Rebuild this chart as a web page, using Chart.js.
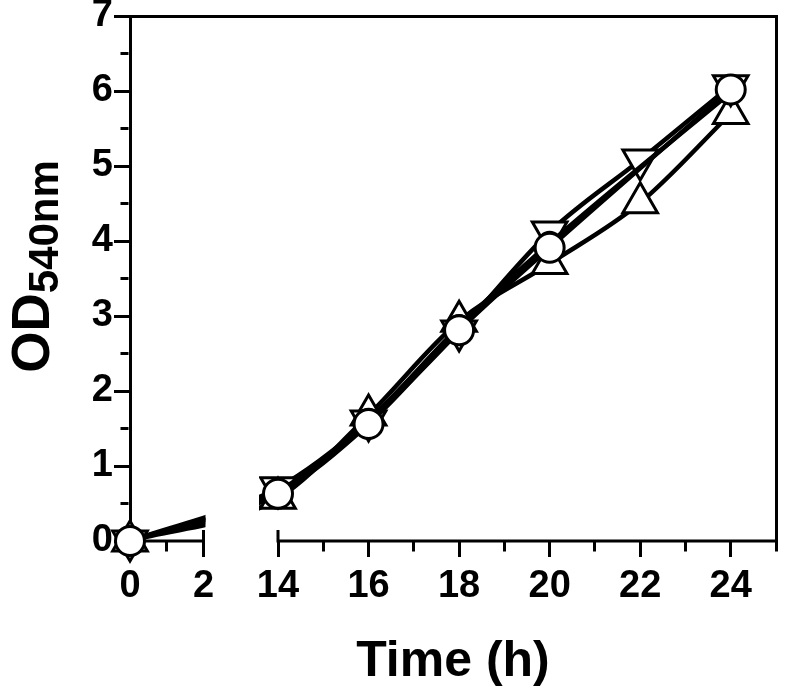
<!DOCTYPE html>
<html>
<head>
<meta charset="utf-8">
<script src="https://cdn.jsdelivr.net/npm/chart.js@4.4.1/dist/chart.umd.min.js"></script>
<style>
  html, body { margin: 0; padding: 0; background: #fff; }
  #wrap { width: 786px; height: 689px; position: relative; }
</style>
</head>
<body>
<div id="wrap"><canvas id="chart"></canvas></div>
<script>
// sampling times (h) and OD540 readings per culture
const hours = [0, 14, 16, 18, 20, 22, 24];
const odOpenCircle   = [0, 0.63, 1.56, 2.81, 3.91, null, 6.02];
const odFilledCircle = [0, 0.66, 1.61, 2.86, 3.97, null, 5.98];
const odTriDown      = [0, 0.71, 1.60, 2.80, 4.12, 5.08, 6.07];
const odTriUp        = [0, 0.57, 1.68, 2.93, 3.70, 4.51, 5.70];

// axis ticks
const xTickValues = [0, 1, 2, 14, 15, 16, 17, 18, 19, 20, 21, 22, 23, 24, 25];
const xTickLabels = [0, 2, 14, 16, 18, 20, 22, 24];
const yTickValues = [0, 0.5, 1, 1.5, 2, 2.5, 3, 3.5, 4, 4.5, 5, 5.5, 6, 6.5, 7];
const yTickLabels = [0, 1, 2, 3, 4, 5, 6, 7];

// broken x axis: 0-2 | gap | 14-25, widths as relative weights
const breakFrom = 2;
const breakTo = 14;
const xMin = 0;
const xMax = 25;
const xPartWeights = [73.5, 74.5, 498];

const FONT = "'Liberation Sans', Arial, Helvetica, sans-serif";
Chart.defaults.font.family = FONT;
Chart.defaults.font.weight = 'bold';
Chart.defaults.color = '#000';

class BrokenLinearScale extends Chart.LinearScale {
  static id = 'brokenLinear';
  static defaults = {};

  getPixelForValue(v) {
    if (v === null || v === undefined) return NaN;
    const [wl, wg, wr] = xPartWeights;
    const tot = wl + wg + wr;
    let d;
    if (v <= breakFrom) d = (v - xMin) / (breakFrom - xMin) * wl;
    else if (v >= breakTo) d = wl + wg + (v - breakTo) / (xMax - breakTo) * wr;
    else d = wl + (v - breakFrom) / (breakTo - breakFrom) * wg;
    return this.getPixelForDecimal(d / tot);
  }

  getValueForPixel(p) {
    const [wl, wg, wr] = xPartWeights;
    const tot = wl + wg + wr;
    const d = this.getDecimalForPixel(p) * tot;
    if (d <= wl) return xMin + d / wl * (breakFrom - xMin);
    if (d >= wl + wg) return breakTo + (d - wl - wg) / wr * (xMax - breakTo);
    return breakFrom + (d - wl) / wg * (breakTo - breakFrom);
  }
}
Chart.register(BrokenLinearScale);

const toPoints = (vals) => hours.map((h, i) => ({ x: h, y: vals[i] }));

function series(vals, style) {
  return Object.assign({
    data: toPoints(vals),
    xAxisID: 'x',
    yAxisID: 'y',
    borderColor: '#000',
    borderWidth: 4.5,
    cubicInterpolationMode: 'monotone',
    spanGaps: true,
    clip: false,
    pointBorderColor: '#000',
    pointBackgroundColor: '#fff',
    pointBorderWidth: 3,
  }, style);
}

// hide the part of the lines that falls inside the axis gap, draw the broken axis
const axisBreak = {
  id: 'axisBreak',
  beforeDatasetsDraw(chart) {
    const { ctx } = chart;
    const x = chart.scales.x;
    const yb = chart.scales.y.bottom;
    const p0 = x.getPixelForValue(xMin);
    const p2 = x.getPixelForValue(breakFrom);
    const p14 = x.getPixelForValue(breakTo);
    const pEnd = x.getPixelForValue(xMax);

    ctx.save();
    ctx.strokeStyle = '#000';
    ctx.lineWidth = 3;
    ctx.beginPath();
    ctx.moveTo(p0 - 1.5, yb); ctx.lineTo(p2 + 1.5, yb);
    ctx.moveTo(p14 - 1.5, yb); ctx.lineTo(pEnd + 1.5, yb);
    // little caps at the break
    ctx.moveTo(p2, yb - 11); ctx.lineTo(p2, yb);
    ctx.moveTo(p14, yb - 11); ctx.lineTo(p14, yb);
    ctx.stroke();
    ctx.restore();

    const gapL = p2 + 2;
    const gapR = p14 - 19;
    ctx.save();
    ctx.beginPath();
    ctx.rect(0, 0, gapL, chart.height);
    ctx.rect(gapR, 0, chart.width - gapR, chart.height);
    ctx.clip();
  },
  afterDatasetsDraw(chart) {
    chart.ctx.restore();
  },
  afterDraw(chart) {
    // y title with subscript
    const { ctx, chartArea } = chart;
    const big = 53, small = 42;
    ctx.save();
    ctx.font = `bold ${big}px ${FONT}`;
    const wOD = ctx.measureText('OD').width;
    ctx.font = `bold ${small}px ${FONT}`;
    const wSub = ctx.measureText('540nm').width;
    const mid = (chartArea.top + chartArea.bottom) / 2 - 12;
    ctx.translate(49, mid + (wOD + wSub) / 2);
    ctx.rotate(-Math.PI / 2);
    ctx.fillStyle = '#000';
    ctx.textBaseline = 'alphabetic';
    ctx.textAlign = 'left';
    ctx.font = `bold ${big}px ${FONT}`;
    ctx.fillText('OD', 0, 0);
    ctx.font = `bold ${small}px ${FONT}`;
    ctx.fillText('540nm', wOD, 9);
    ctx.restore();
  }
};

new Chart(document.getElementById('chart'), {
  type: 'line',
  data: {
    datasets: [
      series(odOpenCircle, { label: 'open circle', pointStyle: 'circle', pointRadius: 14.5 }),
      series(odFilledCircle, { label: 'filled circle', pointStyle: 'circle', pointRadius: 11, pointBackgroundColor: '#000' }),
      series(odTriDown, { label: 'triangle down', pointStyle: 'triangle', pointRotation: 180, pointRadius: 20 }),
      series(odTriUp, { label: 'triangle up', pointStyle: 'triangle', pointRadius: 20 }),
    ],
  },
  options: {
    responsive: true,
    maintainAspectRatio: false,
    animation: false,
    events: [],
    layout: { autoPadding: false, padding: { top: 16, right: 10, bottom: 0, left: 0 } },
    plugins: {
      legend: { display: false },
      tooltip: { enabled: false },
    },
    scales: {
      x: {
        type: 'brokenLinear',
        position: 'bottom',
        min: xMin,
        max: xMax,
        afterBuildTicks: (s) => { s.ticks = xTickValues.map((v) => ({ value: v })); },
        afterFit: (s) => { s.height = 148; s.paddingLeft = 0; s.paddingRight = 0; },
        border: { display: false },
        grid: {
          drawOnChartArea: false,
          tickLength: 16,
          tickWidth: 3,
          tickColor: '#000',
          tickBorderDash: (c) => xTickLabels.includes(c.tick.value) ? [] : [10.5, 100],
        },
        ticks: {
          autoSkip: false,
          maxRotation: 0,
          minRotation: 0,
          padding: 7,
          color: '#000',
          font: { size: 38, weight: 'bold' },
          callback: (v) => xTickLabels.includes(v) ? String(v) : '',
        },
        title: {
          display: true,
          text: 'Time (h)',
          color: '#000',
          font: { size: 50, weight: 'bold', lineHeight: 1 },
          padding: { top: 0, bottom: 2 },
        },
      },
      xTop: {
        type: 'linear',
        position: 'top',
        afterFit: (s) => { s.height = 0; },
        border: { color: '#000', width: 3 },
        grid: { display: false, drawTicks: false },
        ticks: { display: false },
      },
      y: {
        type: 'linear',
        position: 'left',
        min: 0,
        max: 7,
        afterBuildTicks: (s) => { s.ticks = yTickValues.map((v) => ({ value: v })); },
        afterFit: (s) => { s.width = 130; s.paddingTop = 0; s.paddingBottom = 0; },
        border: { color: '#000', width: 3 },
        grid: {
          drawOnChartArea: false,
          tickLength: 16,
          tickWidth: 3,
          tickColor: '#000',
          tickBorderDash: (c) => yTickLabels.includes(c.tick.value) ? [] : [0, 6.5, 8, 100],
        },
        ticks: {
          autoSkip: false,
          padding: 1,
          color: '#000',
          font: { size: 38, weight: 'bold' },
          callback: (v) => yTickLabels.includes(v) ? String(v) : '',
        },
      },
      yRight: {
        type: 'linear',
        position: 'right',
        afterFit: (s) => { s.width = 0; },
        border: { color: '#000', width: 3 },
        grid: { display: false, drawTicks: false },
        ticks: { display: false },
      },
    },
  },
  plugins: [axisBreak],
});
</script>
</body>
</html>
